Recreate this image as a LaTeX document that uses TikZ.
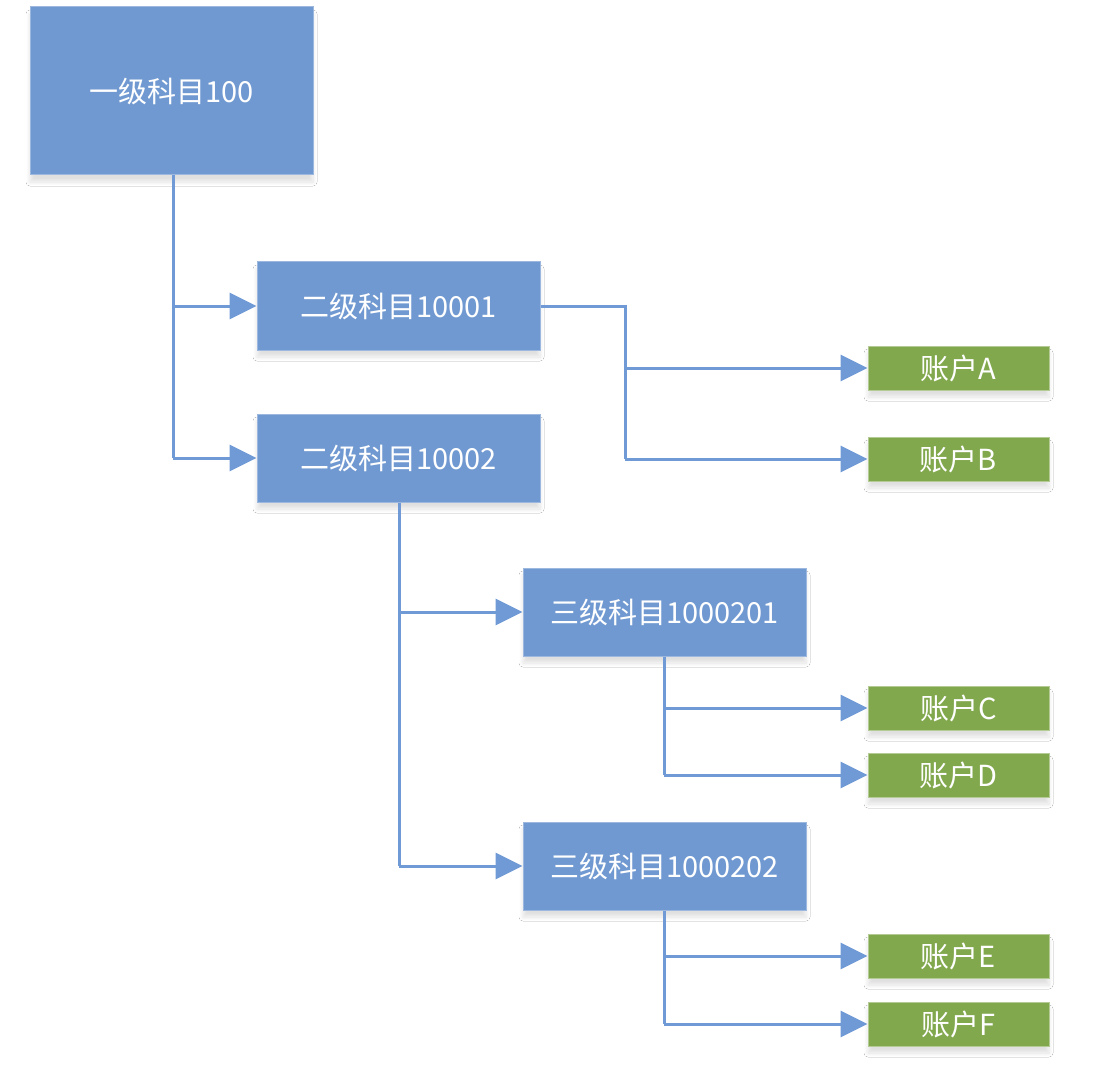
\documentclass[tikz,border=0pt]{standalone}
\usepackage{fontspec}
\setmainfont{Noto Sans CJK SC}
\usetikzlibrary{arrows.meta,shadows.blur}
\definecolor{boxblue}{RGB}{113,153,209}
\definecolor{boxgreen}{RGB}{130,168,78}
\definecolor{lineblue}{RGB}{111,154,214}
\begin{document}
\begin{tikzpicture}[x=1pt,y=-1pt,
  softshadow/.style={blur shadow={shadow xshift=0pt,shadow yshift=-7pt,shadow blur radius=4pt,shadow opacity=12,shadow blur steps=8}},
  bluebox/.style={fill=boxblue,draw=boxblue!70!white,line width=1pt,text=white,
    minimum width=283pt,minimum height=88pt,inner sep=0pt,font=\fontsize{29}{34}\selectfont,softshadow},
  greenbox/.style={fill=boxgreen,draw=boxgreen!60!white,line width=1pt,text=white,
    minimum width=181pt,minimum height=44pt,inner sep=0pt,font=\fontsize{29}{34}\selectfont,softshadow},
  conn/.style={draw=lineblue,line width=3pt},
  arr/.style={conn,-{Triangle[length=27pt,width=26pt]}}]
\useasboundingbox[fill=white] (0,0) rectangle (1106,1078);

\node[bluebox,minimum height=168pt] (L1) at (171.5,91) {一级科目100};
\node[bluebox] (L2a) at (398.5,306) {二级科目10001};
\node[bluebox] (L2b) at (398.5,458) {二级科目10002};
\node[bluebox] (L3a) at (664.5,612) {三级科目1000201};
\node[bluebox] (L3b) at (664.5,866) {三级科目1000202};
\node[greenbox] (A) at (958.5,368) {账户A};
\node[greenbox] (B) at (958.5,459) {账户B};
\node[greenbox] (C) at (958.5,708) {账户C};
\node[greenbox] (D) at (958.5,775) {账户D};
\node[greenbox] (E) at (958.5,956) {账户E};
\node[greenbox] (F) at (958.5,1024) {账户F};

% level 1 -> level 2
\coordinate (t1) at (173,0);
\draw[conn] (L1.south -| t1) -- (t1 |- L2b.west);
\draw[arr] (t1 |- L2a.west) -- (L2a.west);
\draw[arr] (t1 |- L2b.west) -- (L2b.west);

% 10001 -> A, B
\coordinate (t2) at (625,0);
\draw[conn] (L2a.east) -| (t2 |- B.west);
\draw[arr] (t2 |- A.west) -- (A.west);
\draw[arr] (t2 |- B.west) -- (B.west);

% 10002 -> level 3
\coordinate (t3) at (399,0);
\draw[conn] (L2b.south -| t3) -- (t3 |- L3b.west);
\draw[arr] (t3 |- L3a.west) -- (L3a.west);
\draw[arr] (t3 |- L3b.west) -- (L3b.west);

% 1000201 -> C, D
\coordinate (t4) at (664,0);
\draw[conn] (L3a.south -| t4) -- (t4 |- D.west);
\draw[arr] (t4 |- C.west) -- (C.west);
\draw[arr] (t4 |- D.west) -- (D.west);

% 1000202 -> E, F
\draw[conn] (L3b.south -| t4) -- (t4 |- F.west);
\draw[arr] (t4 |- E.west) -- (E.west);
\draw[arr] (t4 |- F.west) -- (F.west);
\end{tikzpicture}
\end{document}
